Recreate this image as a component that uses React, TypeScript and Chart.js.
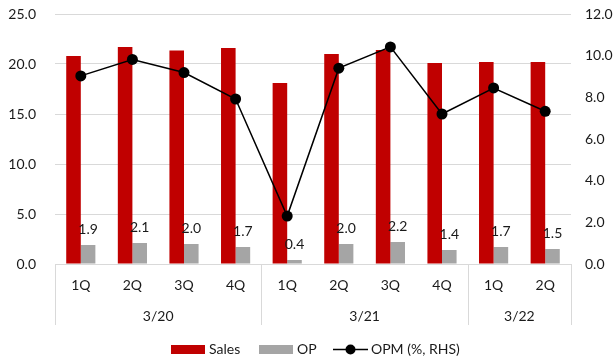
import React, { useEffect, useRef } from "react";
import { Chart, registerables } from "chart.js";

Chart.register(...registerables);

const quarters = ["1Q", "2Q", "3Q", "4Q", "1Q", "2Q", "3Q", "4Q", "1Q", "2Q"];
const groups = [
  { label: "3/20", start: 0, end: 3 },
  { label: "3/21", start: 4, end: 7 },
  { label: "3/22", start: 8, end: 9 },
];
const sales = [20.8, 21.7, 21.35, 21.6, 18.1, 21.0, 21.4, 20.1, 20.2, 20.2];
const op = [1.9, 2.1, 2.0, 1.7, 0.4, 2.0, 2.2, 1.4, 1.7, 1.5];
const opm = [9.03, 9.82, 9.19, 7.92, 2.3, 9.4, 10.42, 7.2, 8.45, 7.33];
const leftTicks = [0, 25, 5];
const rightTicks = [0, 12, 2];

const FONT = "Lato, 'Noto Sans', sans-serif";
const TEXT = "#1a1a1a";
const RED = "#C00000";
const GRAY = "#A5A5A5";
const GRID = "#D9D9D9";

const overlay = {
  id: "overlay",
  afterDraw(chart: any) {
    const ctx = chart.ctx;
    const x = chart.scales.x;
    const area = chart.chartArea;
    ctx.save();
    const meta = chart.getDatasetMeta(1);
    ctx.font = `14px ${FONT}`;
    ctx.fillStyle = TEXT;
    ctx.textAlign = "center";
    ctx.textBaseline = "middle";
    meta.data.forEach((bar: any, i: number) => {
      ctx.fillText(op[i].toFixed(1), bar.x, bar.y - 16);
    });
    const step = x.getPixelForValue(1) - x.getPixelForValue(0);
    const edge = (i: number) => x.getPixelForValue(i) - step / 2;
    ctx.strokeStyle = GRID;
    ctx.lineWidth = 1;
    const bounds = [0, 4, 8, 10];
    bounds.forEach((b) => {
      const px = Math.round(edge(b)) + 0.5;
      ctx.beginPath();
      ctx.moveTo(px, area.bottom);
      ctx.lineTo(px, area.bottom + 61);
      ctx.stroke();
    });
    groups.forEach((g) => {
      const cx = (edge(g.start) + edge(g.end + 1)) / 2;
      ctx.fillText(g.label, cx, area.bottom + 52);
    });
    const ly = 349;
    ctx.textAlign = "left";
    ctx.fillStyle = RED;
    ctx.fillRect(171, ly - 4, 34, 9);
    ctx.fillStyle = TEXT;
    ctx.fillText("Sales", 209, ly);
    ctx.fillStyle = GRAY;
    ctx.fillRect(259, ly - 4, 34, 9);
    ctx.fillStyle = TEXT;
    ctx.fillText("OP", 297, ly);
    ctx.strokeStyle = "#000";
    ctx.lineWidth = 1.5;
    ctx.beginPath();
    ctx.moveTo(333, ly + 0.5);
    ctx.lineTo(368, ly + 0.5);
    ctx.stroke();
    ctx.fillStyle = "#000";
    ctx.beginPath();
    ctx.arc(350.5, ly + 0.5, 5, 0, Math.PI * 2);
    ctx.fill();
    ctx.fillStyle = TEXT;
    ctx.fillText("OPM (%, RHS)", 371, ly);
    ctx.restore();
  },
};

export default function App() {
  const ref = useRef<HTMLCanvasElement>(null);
  useEffect(() => {
    document.body.style.margin = "0";
    const chart = new Chart(ref.current as HTMLCanvasElement, {
      type: "bar",
      data: {
        labels: quarters,
        datasets: [
          {
            type: "line",
            label: "OPM (%, RHS)",
            data: opm,
            yAxisID: "y1",
            borderColor: "#000",
            backgroundColor: "#000",
            borderWidth: 1.5,
            pointRadius: 5.5,
            pointBackgroundColor: "#000",
            pointBorderWidth: 0,
            tension: 0,
            order: 0,
          } as any,
          {
            label: "OP",
            data: op,
            backgroundColor: GRAY,
            yAxisID: "y",
            order: 2,
          },
          {
            label: "Sales",
            data: sales,
            backgroundColor: RED,
            yAxisID: "y",
            order: 1,
          },
        ],
      },
      options: {
        responsive: false,
        animation: false,
        maintainAspectRatio: false,
        layout: { padding: { top: 14, left: 0, right: 0, bottom: 0 } },
        datasets: { bar: { categoryPercentage: 0.565, barPercentage: 1 } },
        plugins: { legend: { display: false }, tooltip: { enabled: false } },
        scales: {
          x: {
            grid: { display: false, drawTicks: false },
            border: { display: true, color: GRID },
            ticks: { font: { family: FONT, size: 14 }, color: TEXT, padding: 13, maxRotation: 0 },
            afterFit: (s: any) => { s.height = 97; s.paddingLeft = 0; s.paddingRight = 0; },
          },
          y: {
            position: "left",
            min: leftTicks[0],
            max: leftTicks[1],
            ticks: {
              stepSize: leftTicks[2],
              font: { family: FONT, size: 14 },
              color: TEXT,
              padding: 19,
              callback: (v: any) => Number(v).toFixed(1),
            },
            grid: { color: GRID, drawTicks: false },
            border: { display: false },
            afterFit: (s: any) => { s.width = 55; s.paddingTop = 0; s.paddingBottom = 0; },
          },
          y1: {
            position: "right",
            min: rightTicks[0],
            max: rightTicks[1],
            ticks: {
              stepSize: rightTicks[2],
              font: { family: FONT, size: 14 },
              color: TEXT,
              padding: 14,
              callback: (v: any) => Number(v).toFixed(1),
            },
            grid: { display: false, drawTicks: false },
            border: { display: false },
            afterFit: (s: any) => { s.width = 45; s.paddingTop = 0; s.paddingBottom = 0; },
          },
        },
      },
      plugins: [overlay],
    });
    return () => chart.destroy();
  }, []);
  return (
    <div style={{ width: 616, height: 361, background: "#fff" }}>
      <canvas ref={ref} width={616} height={361} />
    </div>
  );
}
